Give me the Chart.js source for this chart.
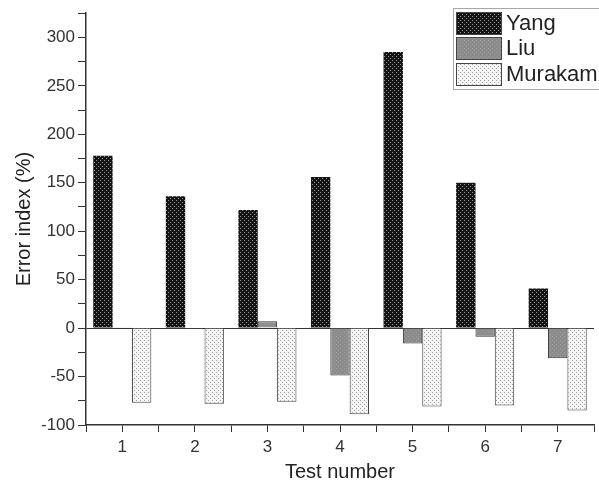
<!DOCTYPE html>
<html>
<head>
<meta charset="utf-8">
<script src="https://cdn.jsdelivr.net/npm/chart.js@4.4.0/dist/chart.umd.min.js"></script>
<style>
  body { margin: 0; background: #fff; }
  #wrap { width: 599px; height: 488px; }
</style>
</head>
<body>
<div id="wrap"><canvas id="chart" width="599" height="488"></canvas></div>
<script>
var tests = ["1", "2", "3", "4", "5", "6", "7"];
var yang = [178, 136, 122, 156, 285, 150, 41];
var liu = [1, -1, 7, -49, -16, -9, -31];
var murakami = [-77, -78, -76, -89, -81, -80, -85];

function makePattern(bg, dot, size) {
    var c = document.createElement("canvas");
    c.width = size; c.height = size;
    var g = c.getContext("2d");
    g.fillStyle = bg;
    g.fillRect(0, 0, size, size);
    g.fillStyle = dot;
    g.fillRect(0, 0, 1, 1);
    g.fillRect(size / 2, size / 2, 1, 1);
    return g.createPattern(c, "repeat");
}

var ctx = document.getElementById("chart").getContext("2d");
var yangFill = makePattern("#141414", "#9a9a9a", 4);
var liuFill = makePattern("#8c8c8c", "#9e9e9e", 4);
var muraFill = makePattern("#f4f4f4", "#a0a0a0", 4);

var legendBox = {
    id: "legendBox",
    afterDraw: function(chart) {
        var c = chart.ctx;
        c.save();
        c.fillStyle = "#fff";
        c.fillRect(453, 8, 160, 82);
        c.strokeStyle = "#a8a8a8";
        c.lineWidth = 1;
        c.strokeRect(453.5, 8.5, 160, 81);
        var rows = [12, 37, 63];
        chart.data.datasets.forEach(function(ds, i) {
            c.fillStyle = ds.backgroundColor;
            c.fillRect(456, rows[i], 46, 23);
            c.strokeStyle = "#444";
            c.strokeRect(456.5, rows[i] + 0.5, 45, 22);
            c.fillStyle = "#222";
            c.font = "22px 'Liberation Sans', Arial, sans-serif";
            c.textBaseline = "middle";
            c.fillText(ds.label, 506, rows[i] + 12);
        });
        c.restore();
    }
};

new Chart(ctx, {
    type: "bar",
    data: {
        labels: tests,
        datasets: [
            { label: "Yang", data: yang, backgroundColor: yangFill, borderColor: "#222", borderWidth: 0 },
            { label: "Liu", data: liu, backgroundColor: liuFill, borderColor: "#333", borderWidth: 1 },
            { label: "Murakami", data: murakami, backgroundColor: muraFill, borderColor: "#444", borderWidth: 1 }
        ]
    },
    options: {
        responsive: false,
        animation: false,
        layout: { padding: { top: 13, right: 2 } },
        categoryPercentage: 0.8,
        barPercentage: 1.0,
        plugins: { legend: { display: false }, tooltip: { enabled: false } },
        scales: {
            x: { display: false, offset: true },
            x2: {
                type: "linear",
                position: "bottom",
                min: 0.5, max: 7.5,
                offset: false,
                afterFit: function(s) { s.height = 63; },
                ticks: {
                    stepSize: 0.5,
                    autoSkip: false,
                    maxRotation: 0,
                    color: "#333",
                    padding: 5,
                    font: { family: "'Liberation Sans', Arial, sans-serif", size: 17 },
                    callback: function(v) { return Number.isInteger(v) ? String(v) : ""; }
                },
                grid: { offset: false, drawOnChartArea: false, drawTicks: true, tickLength: 7, color: "#333", tickColor: "#333" },
                border: { color: "#333", width: 1.5 },
                title: { display: true, text: "Test number", color: "#222", padding: { top: 2 },
                         font: { family: "'Liberation Sans', Arial, sans-serif", size: 20 } }
            },
            y: {
                min: -100, max: 325,
                afterFit: function(s) { s.width = 86; },
                ticks: {
                    stepSize: 25,
                    autoSkip: false,
                    color: "#333",
                    padding: 3,
                    font: { family: "'Liberation Sans', Arial, sans-serif", size: 17 },
                    callback: function(v) { return v % 50 === 0 && v <= 300 ? String(v) : ""; }
                },
                grid: {
                    drawOnChartArea: true, tickLength: 8, tickColor: "#333",
                    color: function(c) { return c.tick && c.tick.value === 0 ? "#333" : "rgba(0,0,0,0)"; }
                },
                border: { color: "#333", width: 1.5 },
                title: { display: true, text: "Error index (%)", color: "#222", padding: { top: 12, bottom: 0 },
                         font: { family: "'Liberation Sans', Arial, sans-serif", size: 20 } }
            }
        }
    },
    plugins: [legendBox]
});
</script>
</body>
</html>
